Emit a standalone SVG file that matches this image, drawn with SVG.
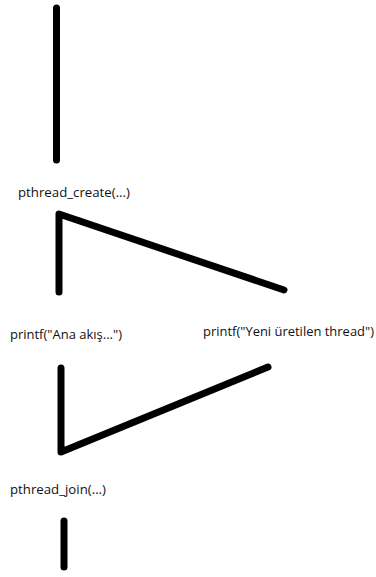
<svg xmlns="http://www.w3.org/2000/svg" width="376" height="577" viewBox="0 0 376 577">
<style>
.l{fill:none;stroke:#000;stroke-width:7;stroke-linecap:round;stroke-linejoin:round}
.t{font-family:"Open Sans","Noto Sans",sans-serif;font-size:13px;fill:#111}
</style>
<rect width="376" height="577" fill="#fff"/>
<g id="connectors">
<path class="l" d="M56.5 8 V160"/>
<path class="l" d="M59 292 V214 L284 290"/>
<path class="l" d="M61 368 V452 L268 367"/>
<path class="l" d="M64 521 V567"/>
</g>
<g id="create"><text class="t" x="18" y="197" textLength="112" lengthAdjust="spacingAndGlyphs">pthread_create(...)</text></g>
<g id="main"><text class="t" x="10" y="339" textLength="112" lengthAdjust="spacingAndGlyphs">printf("Ana akış...")</text></g>
<g id="thread"><text class="t" x="203" y="336" textLength="171" lengthAdjust="spacingAndGlyphs">printf("Yeni üretilen thread")</text></g>
<g id="join"><text class="t" x="10" y="494" textLength="96" lengthAdjust="spacingAndGlyphs">pthread_join(...)</text></g>
</svg>
